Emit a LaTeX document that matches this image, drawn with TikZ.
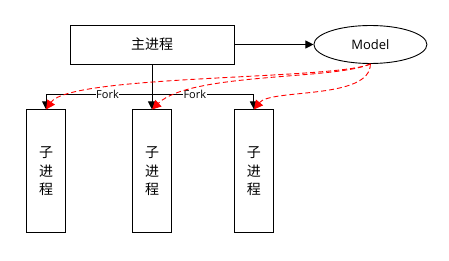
\documentclass[tikz,border=0pt]{standalone}
\usepackage{fontspec}
\setmainfont{Open Sans}
\newfontfamily\cjk{Noto Sans CJK SC}
\usetikzlibrary{arrows.meta, positioning, shapes.geometric}
\definecolor{linkRed}{RGB}{255, 0, 0}

\begin{document}
\begin{tikzpicture}[
    x=1pt, y=1pt,
    block/.style={
      rectangle, draw=black, fill=white, line width=0.9pt, inner sep=0pt,
      font=\cjk\fontsize{14}{18.5}\selectfont, align=center
    },
    mainbox/.style={block, minimum width=164pt, minimum height=39pt},
    childbox/.style={block, minimum width=39pt, minimum height=123pt},
    modelbox/.style={
      ellipse, draw=black, line width=0.9pt, minimum width=113pt,
      minimum height=38pt, inner sep=0pt, font=\fontsize{13}{15}\selectfont
    },
    arrow/.style={-{Triangle[length=8pt, width=8pt]}, line width=0.9pt},
    link/.style={-{Triangle[length=9pt, width=9pt]}, linkRed, line width=0.9pt,
      dash pattern=on 5pt off 3pt},
    lbl/.style={fill=white, inner sep=0.5pt, font=\fontsize{11}{13}\selectfont},
  ]
    \useasboundingbox (0,0) rectangle (449,260);

    % Main process and model
    \node[mainbox] (main) at (152,215.5) {主进程};
    \node[modelbox, right=79pt of main] (model) {Model};

    % Child processes
    \node[childbox, below=45pt of main] (child2) {子\\进\\程};
    \node[childbox, left=66pt of child2] (child1) {子\\进\\程};
    \node[childbox, right=62pt of child2] (child3) {子\\进\\程};

    % Fork arrows
    \coordinate[below=30pt of main.south] (fork);
    \draw[arrow] (main) -- (model);
    \draw[arrow] (main) -- (child2);
    \draw[arrow] (fork) -| node[lbl, pos=0.21] {Fork} (child1);
    \draw[arrow] (fork) -| node[lbl, pos=0.21] {Fork} (child3);

    % Model links
    \draw[link] (model.south) .. controls +(-35,-16) and +(24,35) .. (child1.north);
    \draw[link] (model.south) .. controls +(-35,-16) and +(38,37) .. (child2.north);
    \draw[link] (model.south) .. controls +(0,-36) and +(17,21) .. (child3.north);
  \end{tikzpicture}
\end{document}
